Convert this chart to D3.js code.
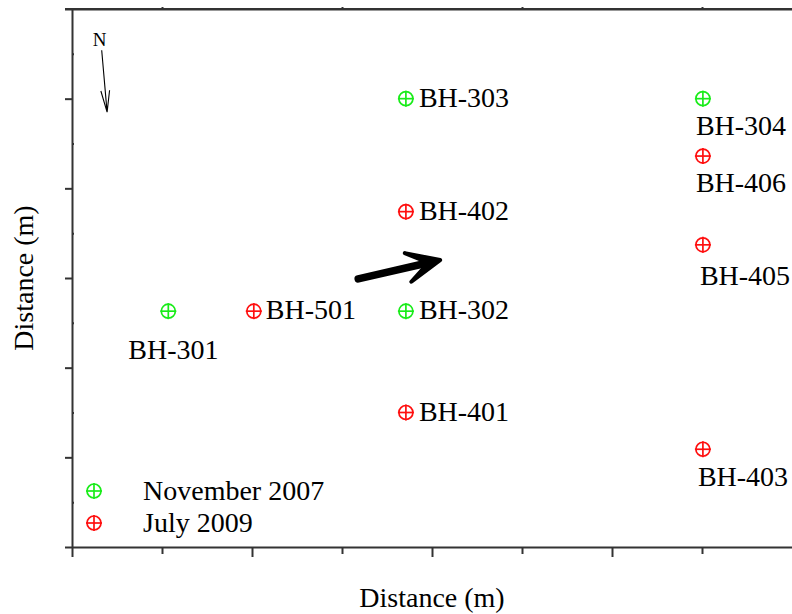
<!DOCTYPE html>
<html>
<head>
<meta charset="utf-8">
<script src="https://cdn.jsdelivr.net/npm/d3@7"></script>
<style>
  html, body { margin: 0; padding: 0; background: #fff; }
  svg { display: block; }
  text { font-family: "Liberation Serif", "Times New Roman", serif; fill: #000; }
</style>
</head>
<body>
<svg id="chart" width="792" height="614"></svg>
<script>
// Borehole locations (m) for the two survey campaigns
const names    = ["BH-301", "BH-302", "BH-303", "BH-304", "BH-501", "BH-401", "BH-402", "BH-403", "BH-405", "BH-406"];
const xValues  = [10.7, 37.1, 37.1, 70.1, 20.2, 37.1, 37.1, 70.1, 70.1, 70.1];
const yValues  = [26.3, 26.3, 50.0, 50.0, 26.3, 15.0, 37.4, 10.9, 33.7, 43.6];
const campaign = ["November 2007", "November 2007", "November 2007", "November 2007",
                  "July 2009", "July 2009", "July 2009", "July 2009", "July 2009", "July 2009"];
const legendLabels = ["November 2007", "July 2009"];

// Label placement around each marker (pixels)
const labelOffset = {
  "BH-301": [-40, 48], "BH-302": [13, 8], "BH-303": [13, 8], "BH-304": [-7, 36],
  "BH-501": [12, 8],   "BH-401": [13, 8], "BH-402": [13, 8], "BH-403": [-5, 37],
  "BH-405": [-3, 40],  "BH-406": [-7, 36]
};

// Ground-water flow direction and north arrow, in plot units
const flowArrow  = { x0: 31.8, y0: 29.9, x1: 40.9, y1: 32.0 };
const northArrow = { x0: 3.3, y0: 55.4, x1: 3.9, y1: 48.5 };

const colors = { "November 2007": "#19ec19", "July 2009": "#ff0f0f" };

const svg = d3.select("#chart");
const plotLeft = 72, plotRight = 792, plotTop = 9, plotBottom = 547;
const fontSize = 28;

const x = d3.scaleLinear().domain([0, 80]).range([plotLeft, plotRight]);
const y = d3.scaleLinear().domain([0, 60]).range([plotBottom, plotTop]);

const axisColor = "#333";
function styleAxis(g) {
  g.selectAll("path, line").attr("stroke", axisColor).attr("stroke-width", 2);
  g.selectAll("text").remove();
}

// Left axis: major ticks outward, minor ticks inward
svg.append("g").attr("transform", `translate(${plotLeft},0)`)
  .call(d3.axisLeft(y).tickValues(d3.range(0, 61, 10)).tickSize(7).tickSizeOuter(0).tickFormat(""))
  .call(styleAxis);
svg.append("g").attr("transform", `translate(${plotLeft},0)`)
  .call(d3.axisRight(y).tickValues(d3.range(5, 60, 10)).tickSize(2).tickFormat(""))
  .call(g => g.select(".domain").remove())
  .call(styleAxis);

// Bottom axis
svg.append("g").attr("transform", `translate(0,${plotBottom})`)
  .call(d3.axisBottom(x).tickValues([0, 20, 40, 60]).tickSize(10).tickSizeOuter(0).tickFormat(""))
  .call(styleAxis);
svg.append("g").attr("transform", `translate(0,${plotBottom})`)
  .call(d3.axisBottom(x).tickValues([10, 30, 50, 70]).tickSize(7).tickFormat(""))
  .call(g => g.select(".domain").remove())
  .call(styleAxis);

// Top frame line
svg.append("g").attr("transform", `translate(0,${plotTop})`)
  .call(d3.axisTop(x).tickValues([10, 30, 50, 70]).tickSize(2).tickSizeOuter(0).tickFormat(""))
  .call(styleAxis);
svg.append("line")
  .attr("x1", plotLeft - 7).attr("x2", plotRight).attr("y1", plotTop).attr("y2", plotTop)
  .attr("stroke", axisColor).attr("stroke-width", 2);

// Axis titles
svg.append("text")
  .attr("x", (plotLeft + plotRight) / 2).attr("y", 607)
  .attr("text-anchor", "middle").attr("font-size", fontSize)
  .text("Distance (m)");
svg.append("text")
  .attr("transform", `translate(33,${(plotTop + plotBottom) / 2}) rotate(-90)`)
  .attr("text-anchor", "middle").attr("font-size", fontSize)
  .text("Distance (m)");

// Circle-with-cross marker
const R = 7;
function marker(g, color) {
  g.append("circle").attr("r", R).attr("fill", "none").attr("stroke", color).attr("stroke-width", 1.7);
  g.append("line").attr("x1", -R - 1).attr("x2", R + 1).attr("stroke", color).attr("stroke-width", 1.7);
  g.append("line").attr("y1", -R - 1).attr("y2", R + 1).attr("stroke", color).attr("stroke-width", 1.7);
}

const points = names.map((n, i) => ({ name: n, x: xValues[i], y: yValues[i], c: campaign[i] }));

const pts = svg.append("g").selectAll("g.pt").data(points).join("g")
  .attr("class", "pt")
  .attr("transform", d => `translate(${x(d.x)},${y(d.y)})`);
pts.each(function (d) { marker(d3.select(this), colors[d.c]); });
pts.append("text")
  .attr("x", d => labelOffset[d.name][0])
  .attr("y", d => labelOffset[d.name][1])
  .attr("font-size", fontSize)
  .text(d => d.name);

// Legend
const legend = svg.append("g").selectAll("g").data(legendLabels).join("g")
  .attr("transform", (d, i) => `translate(94,${491 + i * 32})`);
legend.each(function (d) { marker(d3.select(this), colors[d]); });
legend.append("text").attr("x", 49).attr("y", 8.5).attr("font-size", fontSize).text(d => d);

// Flow direction arrow
{
  const x0 = x(flowArrow.x0), y0 = y(flowArrow.y0), x1 = x(flowArrow.x1), y1 = y(flowArrow.y1);
  const ang = Math.atan2(y1 - y0, x1 - x0);
  const len = 36, half = 0.42;
  const pA = [x1 - len * Math.cos(ang - half), y1 - len * Math.sin(ang - half)];
  const pB = [x1 - len * Math.cos(ang + half), y1 - len * Math.sin(ang + half)];
  const back = [x1 - 12 * Math.cos(ang), y1 - 12 * Math.sin(ang)];
  svg.append("line")
    .attr("x1", x0).attr("y1", y0).attr("x2", back[0]).attr("y2", back[1])
    .attr("stroke", "#000").attr("stroke-width", 7.5).attr("stroke-linecap", "round");
  svg.append("path")
    .attr("d", `M${pA}L${x1},${y1}L${pB}L${back}Z`)
    .attr("fill", "#000").attr("stroke", "#000").attr("stroke-width", 4).attr("stroke-linejoin", "round");
}

// North arrow
{
  const x0 = x(northArrow.x0), y0 = y(northArrow.y0), x1 = x(northArrow.x1), y1 = y(northArrow.y1);
  const ang = Math.atan2(y1 - y0, x1 - x0);
  const len = 22, half = 0.2;
  const pA = [x1 - len * Math.cos(ang - half), y1 - len * Math.sin(ang - half)];
  const pB = [x1 - len * Math.cos(ang + half), y1 - len * Math.sin(ang + half)];
  svg.append("path")
    .attr("d", `M${x0},${y0}L${x1},${y1}M${pA}L${x1},${y1}L${pB}`)
    .attr("fill", "none").attr("stroke", "#000").attr("stroke-width", 1.1);
  svg.append("text")
    .attr("x", x0 - 2).attr("y", y0 - 4)
    .attr("text-anchor", "middle").attr("font-size", 19)
    .text("N");
}
</script>
</body>
</html>
